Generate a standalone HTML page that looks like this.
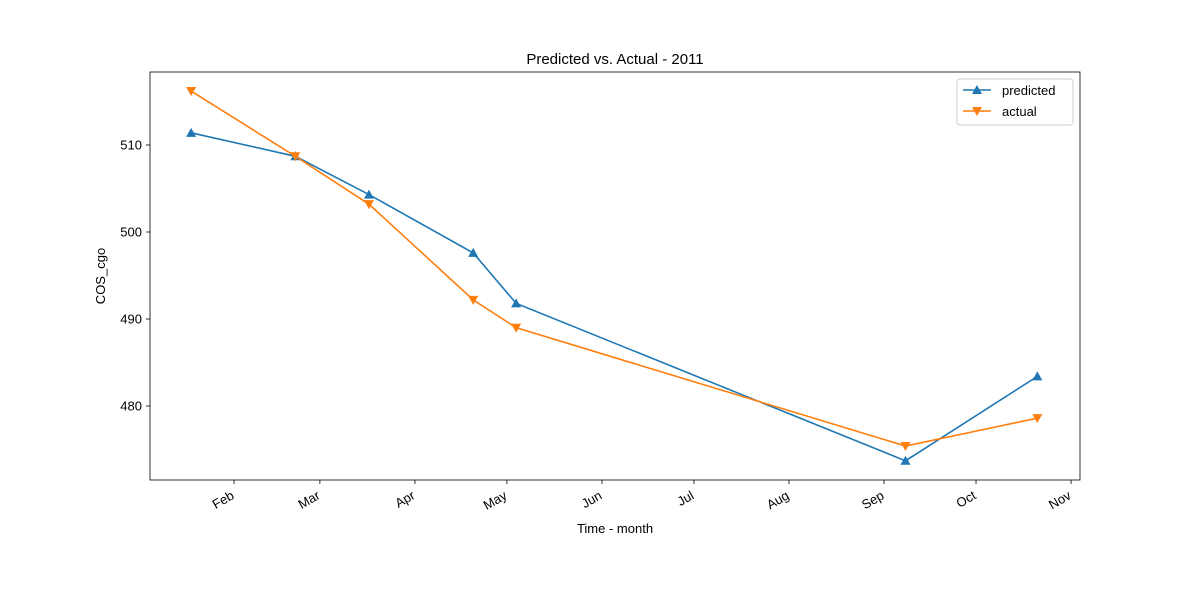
<!DOCTYPE html>
<html><head><meta charset="utf-8"><style>
body{margin:0;background:#fff;font-family:"Liberation Sans","DejaVu Sans",sans-serif;}
</style></head><body>
<svg id="chart" width="1200" height="600" xmlns="http://www.w3.org/2000/svg" font-family="Liberation Sans, DejaVu Sans, sans-serif">
<rect width="1200" height="600" fill="#fff"/>
<text x="615" y="64" text-anchor="middle" font-size="15">Predicted vs. Actual - 2011</text>
<g id="plot"></g>
<text x="615" y="533" text-anchor="middle" font-size="13">Time - month</text>
<text transform="translate(105,276) rotate(-90)" text-anchor="middle" font-size="13">COS_cgo</text>
</svg>
<script>
const dates = ["2011-01-18","2011-02-21","2011-03-17","2011-04-20","2011-05-04","2011-09-08","2011-10-21"];
const predicted = [511.4,508.7,504.3,497.6,491.8,473.7,483.4];
const actual = [516.2,508.7,503.2,492.2,489.0,475.4,478.6];
const monthTicks = ["Feb","Mar","Apr","May","Jun","Jul","Aug","Sep","Oct","Nov"];
const yTicks = [480,490,500,510];
const NS="http://www.w3.org/2000/svg";
const L=150,R=1080,T=72,B=480;
const jan1=Date.UTC(2011,0,1);
function dayOf(s){return (Date.parse(s+"T00:00:00Z")-jan1)/86400000;}
function xs(d){return 139+d*3.066;}
function ys(v){return 406-(v-480)*8.7;}
const g=document.getElementById('plot');
function mk(t,a){const e=document.createElementNS(NS,t);for(const k in a)e.setAttribute(k,a[k]);g.appendChild(e);return e;}
let e;
monthTicks.forEach((m,i)=>{
 const d=dayOf("2011-"+String(i+2).padStart(2,"0")+"-01");const x=xs(d);
 e=mk('line',{x1:x,x2:x,y1:B,y2:B+4,stroke:'#000','stroke-width':0.8});
 
 
 const ax=x+1,ay=B+18;
 e=mk('text',{x:ax,y:ay,'text-anchor':'end','font-size':13,transform:`rotate(-30 ${ax} ${ay})`});
 e.textContent=m;
 
 
});
yTicks.forEach(v=>{
 const y=ys(v);
 e=mk('line',{x1:L-4,x2:L,y1:y,y2:y,stroke:'#000','stroke-width':0.8});
 
 
 e=mk('text',{x:L-8,y:y+4.5,'text-anchor':'end','font-size':13});
 e.textContent=v;
 
 
});
function series(vals,color,up,name){
 const pts=vals.map((v,i)=>[xs(dayOf(dates[i])),ys(v)]);
 e=mk('polyline',{points:pts.map(p=>p.join(',')).join(' '),fill:'none',stroke:color,'stroke-width':1.6});
 
 
 pts.forEach(p=>{
  const [x,y]=p;const s=5;
  const pt=up?`${x},${y-s} ${x-s},${y+s*0.8} ${x+s},${y+s*0.8}`:`${x},${y+s} ${x-s},${y-s*0.8} ${x+s},${y-s*0.8}`;
  e=mk('polygon',{points:pt,fill:color});
  
  
 });
}
series(predicted,'#1f77b4',true,'predicted');
series(actual,'#ff7f0e',false,'actual');
e=mk('rect',{x:L,y:T,width:R-L,height:B-T,fill:'none',stroke:'#000','stroke-width':0.8});


e=mk('rect',{x:957,y:79,width:116,height:46,rx:3,fill:'#fff',stroke:'#ccc'});


[['predicted','#1f77b4',true,90],['actual','#ff7f0e',false,111]].forEach(([n,c,up,y])=>{
 e=mk('line',{x1:963,x2:991,y1:y,y2:y,stroke:c,'stroke-width':1.6});
 
 
 const x=977,s=5;
 e=mk('polygon',{points:up?`${x},${y-s} ${x-s},${y+s*0.8} ${x+s},${y+s*0.8}`:`${x},${y+s} ${x-s},${y-s*0.8} ${x+s},${y-s*0.8}`,fill:c});
 
 
 e=mk('text',{x:1002,y:y+5,'font-size':13});
 e.textContent=n;
 
 
});
</script>
</body></html>
